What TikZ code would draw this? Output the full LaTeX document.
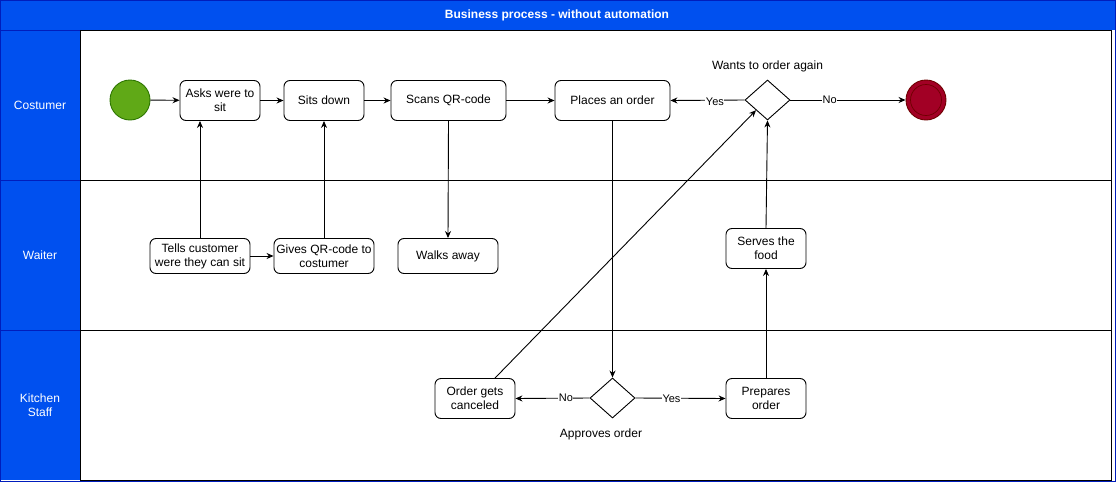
\documentclass[tikz,border=0pt]{standalone}
\usepackage{fontspec}
\setmainfont{Liberation Sans}
\usetikzlibrary{shapes.geometric,arrows.meta,calc}
\definecolor{lanefill}{HTML}{0050EF}
\definecolor{lanestroke}{HTML}{001DBC}
\definecolor{startfill}{HTML}{60A917}
\definecolor{startstroke}{HTML}{2D7600}
\definecolor{endfill}{HTML}{A20025}
\definecolor{endstroke}{HTML}{6F0000}
\begin{document}
\begin{tikzpicture}[x=1pt,y=-1pt,
  every node/.style={font=\fontsize{12}{14}\selectfont},
  task/.style={draw, rounded corners=6pt, line width=0.9pt, align=center, inner sep=0pt, minimum width=80pt, minimum height=40pt, fill=white},
  gate/.style={draw, diamond, line width=0.9pt, minimum width=45pt, minimum height=40pt, inner sep=0pt, fill=white},
  flow/.style={line width=0.9pt, -{Stealth[length=7pt,width=6pt]}},
  elabel/.style={fill=white, inner sep=0.5pt, font=\fontsize{11}{13}\selectfont},
  headtext/.style={text=white, align=center},
  lanebody/.style={draw=black, line width=0.9pt, fill=white}
]
\useasboundingbox (0,0) rectangle (1117,482);
% pool
\fill[lanefill] (0,0) rectangle (1116,480);
\fill[white] (80,30) rectangle (1116,480);
\draw[lanebody] (80,30) rectangle (1111,180);
\draw[lanebody] (80,180) rectangle (1111,330);
\draw[lanebody] (80,330) rectangle (1111,480);
\draw[lanestroke, line width=0.9pt] (0.5,0.5) rectangle (1115.5,481);
\draw[lanestroke, line width=0.9pt] (0.5,30) -- (80,30);
\draw[lanestroke, line width=0.9pt] (0.5,180) -- (80,180);
\draw[lanestroke, line width=0.9pt] (0.5,330) -- (80,330);
\node[headtext, font=\bfseries\fontsize{12}{14}\selectfont] (title) at (557,15.5) {Business process - without automation};
\node[headtext] (lane1) at (40,105.5) {Costumer};
\node[headtext] (lane2) at (40,255.5) {Waiter};
\node[headtext] (lane3) at (40,405.5) {Kitchen\\Staff};

% nodes
\node[circle, draw=startstroke, fill=startfill, line width=0.9pt, minimum size=40pt, inner sep=0pt] (start) at (130,100) {};
\node[task] (asks) at (220,100.5) {Asks were to\\sit};
\node[task] (sits) at (324,100.5) {Sits down};
\node[task, minimum width=115pt] (scans) at (448.5,100.5) {Scans QR-code};
\node[task, minimum width=115pt] (places) at (612.5,100.5) {Places an order};
\node[gate] (again) at (767.5,100) {};
\node (againlbl) at (767.5,66) {Wants to order again};
\node[circle, draw=endstroke, fill=endfill, line width=0.9pt, minimum size=40pt, inner sep=0pt] (end) at (926,100) {};
\node[circle, draw=endstroke, line width=0.7pt, minimum size=31pt, inner sep=0pt] (endin) at (926,100) {};

\node[task, minimum width=100pt, minimum height=35pt] (tells) at (200,256) {Tells customer\\were they can sit};
\node[task, minimum width=100pt, minimum height=35pt] (gives) at (324,256) {Gives QR-code to\\costumer};
\node[task, minimum width=100pt, minimum height=35pt] (walks) at (448,256) {Walks away};
\node[task] (serves) at (766,248.5) {Serves the\\food};

\node[task] (cancel) at (475,398.5) {Order gets\\canceled};
\node[gate] (approve) at (612.5,398) {};
\node (approvelbl) at (601,434) {Approves order};
\node[task] (prepares) at (766,398.5) {Prepares\\order};

% connectors
\draw[flow] (start) -- (asks);
\draw[flow] (asks) -- (sits);
\draw[flow] (sits) -- (scans);
\draw[flow] (scans) -- (places);
\draw[flow] (again.west) -- node[elabel, pos=0.4, yshift=-2pt] {Yes} (places.east);
\draw[flow] (again.east) -- node[elabel, pos=0.34] {No} (end.west);
\draw[flow] (tells.north) -- (asks.south -| tells.north);
\draw[flow] (gives.north) -- (sits.south);
\draw[flow] (tells) -- (gives);
\draw[flow] (scans.south) -- (walks.north);
\draw[flow] (places.south) -- (approve.north);
\draw[flow] (approve.west) -- node[elabel, pos=0.32] {No} (cancel.east);
\draw[flow] (approve.east) -- node[elabel, pos=0.4, yshift=-1pt] {Yes} (prepares.west);
\draw[flow] (prepares.north) -- (serves.south);
\draw[flow] (serves.north) -- (again.south);
\coordinate (cancelout) at ($(cancel.north)+(20,0)$);
\draw[flow] (cancelout) -- (again.south west);
\end{tikzpicture}
\end{document}
